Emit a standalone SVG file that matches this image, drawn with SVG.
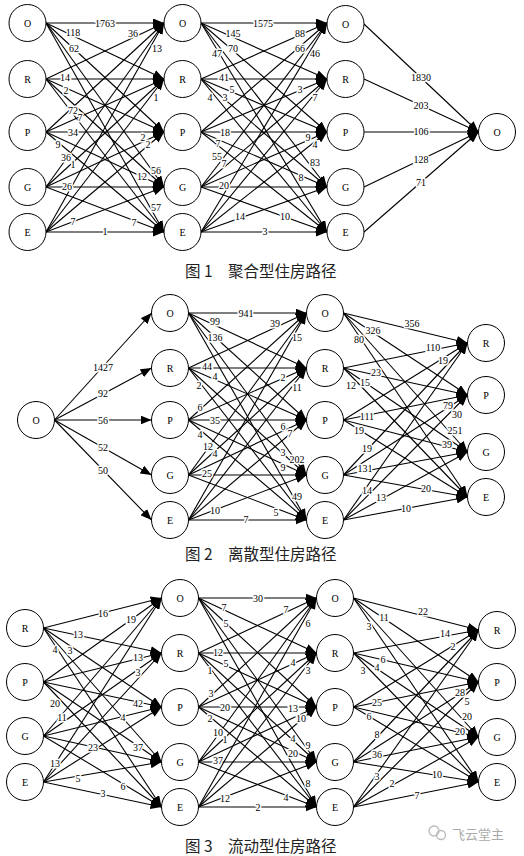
<svg xmlns="http://www.w3.org/2000/svg" width="524" height="856" viewBox="0 0 524 856">
<style>
.e line{stroke:#000;stroke-width:1.1;marker-end:url(#ah);fill:none}
.n circle{fill:#fff;stroke:#000;stroke-width:1}
.n text{font-family:"Liberation Serif",serif;font-size:10px;text-anchor:middle;dominant-baseline:central;fill:#000}
.lb text{font-family:"Liberation Serif",serif;font-size:10px;text-anchor:middle;dominant-baseline:central;fill:#000;paint-order:stroke;stroke:#fff;stroke-width:3px;stroke-linejoin:round}
.cap{font-family:"Noto Sans CJK SC",sans-serif;font-size:15.5px;fill:#222;dominant-baseline:central}
</style>
<defs>
<marker id="ah" markerUnits="userSpaceOnUse" markerWidth="11" markerHeight="9" refX="11" refY="4.5" orient="auto"><path d="M0,0 L11,4.5 L0,9 z" fill="#000"/></marker>
</defs>
<rect width="524" height="856" fill="#fff"/>
<g id="connectors" class="e">
<line x1="46" y1="23" x2="164" y2="23"/><line x1="46" y1="23" x2="164" y2="79"/><line x1="46" y1="23" x2="164" y2="132"/><line x1="46" y1="23" x2="164" y2="187"/><line x1="46" y1="23" x2="164" y2="232"/>
<line x1="46" y1="79" x2="164" y2="23"/><line x1="46" y1="79" x2="164" y2="79"/><line x1="46" y1="79" x2="164" y2="132"/><line x1="46" y1="79" x2="164" y2="187"/><line x1="46" y1="79" x2="164" y2="232"/>
<line x1="46" y1="132" x2="164" y2="23"/><line x1="46" y1="132" x2="164" y2="79"/><line x1="46" y1="132" x2="164" y2="132"/><line x1="46" y1="132" x2="164" y2="187"/><line x1="46" y1="132" x2="164" y2="232"/>
<line x1="46" y1="187" x2="164" y2="23"/><line x1="46" y1="187" x2="164" y2="79"/><line x1="46" y1="187" x2="164" y2="132"/><line x1="46" y1="187" x2="164" y2="187"/><line x1="46" y1="187" x2="164" y2="232"/>
<line x1="46" y1="232" x2="164" y2="23"/><line x1="46" y1="232" x2="164" y2="79"/><line x1="46" y1="232" x2="164" y2="132"/><line x1="46" y1="232" x2="164" y2="187"/><line x1="46" y1="232" x2="164" y2="232"/>
<line x1="201" y1="23" x2="327" y2="23"/><line x1="201" y1="23" x2="327" y2="79"/><line x1="201" y1="23" x2="327" y2="132"/><line x1="201" y1="23" x2="327" y2="187"/><line x1="201" y1="23" x2="327" y2="232"/>
<line x1="201" y1="79" x2="327" y2="23"/><line x1="201" y1="79" x2="327" y2="79"/><line x1="201" y1="79" x2="327" y2="132"/><line x1="201" y1="79" x2="327" y2="187"/><line x1="201" y1="79" x2="327" y2="232"/>
<line x1="201" y1="132" x2="327" y2="23"/><line x1="201" y1="132" x2="327" y2="79"/><line x1="201" y1="132" x2="327" y2="132"/><line x1="201" y1="132" x2="327" y2="187"/><line x1="201" y1="132" x2="327" y2="232"/>
<line x1="201" y1="187" x2="327" y2="23"/><line x1="201" y1="187" x2="327" y2="79"/><line x1="201" y1="187" x2="327" y2="132"/><line x1="201" y1="187" x2="327" y2="187"/><line x1="201" y1="187" x2="327" y2="232"/>
<line x1="201" y1="232" x2="327" y2="23"/><line x1="201" y1="232" x2="327" y2="79"/><line x1="201" y1="232" x2="327" y2="132"/><line x1="201" y1="232" x2="327" y2="187"/><line x1="201" y1="232" x2="327" y2="232"/>
<line x1="364" y1="24" x2="478.5" y2="132"/><line x1="364" y1="79" x2="478.5" y2="132"/><line x1="364" y1="132" x2="478.5" y2="132"/><line x1="364" y1="187" x2="478.5" y2="132"/><line x1="364" y1="232" x2="478.5" y2="132"/>
<line x1="54.5" y1="420" x2="151.5" y2="313"/><line x1="54.5" y1="420" x2="151.5" y2="368"/><line x1="54.5" y1="420" x2="151.5" y2="420"/><line x1="54.5" y1="420" x2="151.5" y2="475"/><line x1="54.5" y1="420" x2="151.5" y2="520"/>
<line x1="188.5" y1="313" x2="306.5" y2="313"/><line x1="188.5" y1="313" x2="306.5" y2="368"/><line x1="188.5" y1="313" x2="306.5" y2="420"/><line x1="188.5" y1="313" x2="306.5" y2="475"/><line x1="188.5" y1="313" x2="306.5" y2="520"/>
<line x1="188.5" y1="368" x2="306.5" y2="313"/><line x1="188.5" y1="368" x2="306.5" y2="368"/><line x1="188.5" y1="368" x2="306.5" y2="420"/><line x1="188.5" y1="368" x2="306.5" y2="475"/><line x1="188.5" y1="368" x2="306.5" y2="520"/>
<line x1="188.5" y1="420" x2="306.5" y2="313"/><line x1="188.5" y1="420" x2="306.5" y2="368"/><line x1="188.5" y1="420" x2="306.5" y2="420"/><line x1="188.5" y1="420" x2="306.5" y2="475"/><line x1="188.5" y1="420" x2="306.5" y2="520"/>
<line x1="188.5" y1="475" x2="306.5" y2="313"/><line x1="188.5" y1="475" x2="306.5" y2="368"/><line x1="188.5" y1="475" x2="306.5" y2="420"/><line x1="188.5" y1="475" x2="306.5" y2="475"/><line x1="188.5" y1="475" x2="306.5" y2="520"/>
<line x1="188.5" y1="520" x2="306.5" y2="313"/><line x1="188.5" y1="520" x2="306.5" y2="368"/><line x1="188.5" y1="520" x2="306.5" y2="420"/><line x1="188.5" y1="520" x2="306.5" y2="475"/><line x1="188.5" y1="520" x2="306.5" y2="520"/>
<line x1="343.5" y1="313" x2="467.5" y2="343"/><line x1="343.5" y1="313" x2="467.5" y2="395"/><line x1="343.5" y1="313" x2="467.5" y2="452"/><line x1="343.5" y1="313" x2="467.5" y2="497"/>
<line x1="343.5" y1="368" x2="467.5" y2="343"/><line x1="343.5" y1="368" x2="467.5" y2="395"/><line x1="343.5" y1="368" x2="467.5" y2="452"/><line x1="343.5" y1="368" x2="467.5" y2="497"/>
<line x1="343.5" y1="420" x2="467.5" y2="343"/><line x1="343.5" y1="420" x2="467.5" y2="395"/><line x1="343.5" y1="420" x2="467.5" y2="452"/><line x1="343.5" y1="420" x2="467.5" y2="497"/>
<line x1="343.5" y1="475" x2="467.5" y2="343"/><line x1="343.5" y1="475" x2="467.5" y2="395"/><line x1="343.5" y1="475" x2="467.5" y2="452"/><line x1="343.5" y1="475" x2="467.5" y2="497"/>
<line x1="343.5" y1="520" x2="467.5" y2="343"/><line x1="343.5" y1="520" x2="467.5" y2="395"/><line x1="343.5" y1="520" x2="467.5" y2="452"/><line x1="343.5" y1="520" x2="467.5" y2="497"/>
<line x1="43.5" y1="628" x2="161.5" y2="598"/><line x1="43.5" y1="628" x2="161.5" y2="653"/><line x1="43.5" y1="628" x2="161.5" y2="707"/><line x1="43.5" y1="628" x2="161.5" y2="762"/><line x1="43.5" y1="628" x2="161.5" y2="807"/>
<line x1="43.5" y1="682" x2="161.5" y2="598"/><line x1="43.5" y1="682" x2="161.5" y2="653"/><line x1="43.5" y1="682" x2="161.5" y2="707"/><line x1="43.5" y1="682" x2="161.5" y2="762"/><line x1="43.5" y1="682" x2="161.5" y2="807"/>
<line x1="43.5" y1="736" x2="161.5" y2="598"/><line x1="43.5" y1="736" x2="161.5" y2="653"/><line x1="43.5" y1="736" x2="161.5" y2="707"/><line x1="43.5" y1="736" x2="161.5" y2="762"/><line x1="43.5" y1="736" x2="161.5" y2="807"/>
<line x1="43.5" y1="782" x2="161.5" y2="598"/><line x1="43.5" y1="782" x2="161.5" y2="653"/><line x1="43.5" y1="782" x2="161.5" y2="707"/><line x1="43.5" y1="782" x2="161.5" y2="762"/><line x1="43.5" y1="782" x2="161.5" y2="807"/>
<line x1="198.5" y1="598" x2="316.5" y2="598"/><line x1="198.5" y1="598" x2="316.5" y2="653"/><line x1="198.5" y1="598" x2="316.5" y2="707"/><line x1="198.5" y1="598" x2="316.5" y2="762"/><line x1="198.5" y1="598" x2="316.5" y2="807"/>
<line x1="198.5" y1="653" x2="316.5" y2="598"/><line x1="198.5" y1="653" x2="316.5" y2="653"/><line x1="198.5" y1="653" x2="316.5" y2="707"/><line x1="198.5" y1="653" x2="316.5" y2="762"/><line x1="198.5" y1="653" x2="316.5" y2="807"/>
<line x1="198.5" y1="707" x2="316.5" y2="598"/><line x1="198.5" y1="707" x2="316.5" y2="653"/><line x1="198.5" y1="707" x2="316.5" y2="707"/><line x1="198.5" y1="707" x2="316.5" y2="762"/><line x1="198.5" y1="707" x2="316.5" y2="807"/>
<line x1="198.5" y1="762" x2="316.5" y2="598"/><line x1="198.5" y1="762" x2="316.5" y2="653"/><line x1="198.5" y1="762" x2="316.5" y2="707"/><line x1="198.5" y1="762" x2="316.5" y2="762"/><line x1="198.5" y1="762" x2="316.5" y2="807"/>
<line x1="198.5" y1="807" x2="316.5" y2="598"/><line x1="198.5" y1="807" x2="316.5" y2="653"/><line x1="198.5" y1="807" x2="316.5" y2="707"/><line x1="198.5" y1="807" x2="316.5" y2="762"/><line x1="198.5" y1="807" x2="316.5" y2="807"/>
<line x1="353.5" y1="598" x2="478.5" y2="630"/><line x1="353.5" y1="598" x2="478.5" y2="682"/><line x1="353.5" y1="598" x2="478.5" y2="737"/><line x1="353.5" y1="598" x2="478.5" y2="782"/>
<line x1="353.5" y1="653" x2="478.5" y2="630"/><line x1="353.5" y1="653" x2="478.5" y2="682"/><line x1="353.5" y1="653" x2="478.5" y2="737"/><line x1="353.5" y1="653" x2="478.5" y2="782"/>
<line x1="353.5" y1="707" x2="478.5" y2="630"/><line x1="353.5" y1="707" x2="478.5" y2="682"/><line x1="353.5" y1="707" x2="478.5" y2="737"/><line x1="353.5" y1="707" x2="478.5" y2="782"/>
<line x1="353.5" y1="762" x2="478.5" y2="630"/><line x1="353.5" y1="762" x2="478.5" y2="682"/><line x1="353.5" y1="762" x2="478.5" y2="737"/><line x1="353.5" y1="762" x2="478.5" y2="782"/>
<line x1="353.5" y1="807" x2="478.5" y2="630"/><line x1="353.5" y1="807" x2="478.5" y2="682"/><line x1="353.5" y1="807" x2="478.5" y2="737"/><line x1="353.5" y1="807" x2="478.5" y2="782"/>
</g>
<g id="edge-labels" class="lb">
<text x="105" y="23">1763</text><text x="73" y="32">118</text><text x="133" y="33">36</text><text x="74" y="48">62</text><text x="157" y="48">13</text>
<text x="65" y="77">14</text><text x="66" y="90">2</text><text x="156" y="97">1</text><text x="73" y="110">72</text><text x="80" y="117">7</text>
<text x="73" y="132">34</text><text x="143" y="137">2</text><text x="148" y="144">2</text><text x="58" y="144">9</text><text x="66" y="157">36</text>
<text x="73" y="164">1</text><text x="156" y="170">56</text><text x="142" y="176">12</text><text x="67" y="186">26</text><text x="156" y="207">57</text>
<text x="73" y="221">7</text><text x="134" y="222">7</text><text x="105" y="231">1</text>
<text x="263" y="23">1575</text><text x="233" y="33">145</text><text x="300" y="33">88</text><text x="233" y="48">70</text><text x="217" y="53">47</text>
<text x="300" y="48">66</text><text x="315" y="53">46</text><text x="224" y="77">41</text><text x="232" y="89">5</text><text x="300" y="89">3</text>
<text x="210" y="97">4</text><text x="225" y="97">3</text><text x="315" y="97">7</text><text x="225" y="132">18</text><text x="308" y="137">9</text>
<text x="218" y="143">7</text><text x="315" y="144">4</text><text x="217" y="156">55</text><text x="224" y="163">7</text><text x="315" y="162">83</text>
<text x="301" y="177">8</text><text x="224" y="185">20</text><text x="240" y="216">14</text><text x="285" y="216">10</text><text x="265" y="231">3</text>
<text x="421" y="77">1830</text><text x="421" y="105">203</text><text x="421" y="131">106</text><text x="421" y="159">128</text><text x="421" y="182">71</text>
<text x="103" y="367">1427</text><text x="103" y="393">92</text><text x="103" y="420">56</text><text x="103" y="447">52</text><text x="103" y="470">50</text>
<text x="246" y="313">941</text><text x="215" y="321">99</text><text x="275" y="323">39</text><text x="215" y="337">136</text><text x="297" y="337">15</text>
<text x="207" y="366">44</text><text x="215" y="376">4</text><text x="283" y="377">2</text><text x="199" y="385">2</text><text x="297" y="387">11</text>
<text x="200" y="407">6</text><text x="215" y="420">35</text><text x="283" y="426">6</text><text x="290" y="433">7</text><text x="200" y="434">4</text>
<text x="208" y="446">12</text><text x="283" y="452">3</text><text x="297" y="459">202</text><text x="215" y="453">4</text><text x="283" y="467">9</text>
<text x="207" y="473">25</text><text x="297" y="496">49</text><text x="215" y="510">10</text><text x="276" y="512">5</text><text x="246" y="519">7</text>
<text x="412" y="323">356</text><text x="373" y="330">326</text><text x="359" y="339">80</text><text x="433" y="347">110</text><text x="443" y="360">19</text>
<text x="376" y="372">23</text><text x="365" y="382">15</text><text x="351" y="385">12</text><text x="448" y="405">79</text><text x="457" y="414">30</text>
<text x="367" y="416">111</text><text x="455" y="430">251</text><text x="359" y="430">19</text><text x="447" y="444">39</text><text x="367" y="448">19</text>
<text x="365" y="468">131</text><text x="426" y="488">20</text><text x="367" y="490">14</text><text x="381" y="497">13</text><text x="406" y="508">10</text>
<text x="103" y="613">16</text><text x="131" y="619">19</text><text x="78" y="634">13</text><text x="55" y="649">4</text><text x="70" y="650">3</text>
<text x="138" y="657">13</text><text x="138" y="672">3</text><text x="55" y="703">20</text><text x="138" y="703">42</text><text x="62" y="717">11</text>
<text x="123" y="717">4</text><text x="93" y="747">23</text><text x="138" y="747">37</text><text x="55" y="763">13</text><text x="78" y="778">5</text>
<text x="123" y="786">6</text><text x="103" y="793">3</text>
<text x="258" y="598">30</text><text x="224" y="607">7</text><text x="286" y="609">7</text><text x="226" y="623">5</text><text x="308" y="623">6</text>
<text x="218" y="652">12</text><text x="226" y="663">5</text><text x="293" y="662">4</text><text x="210" y="670">1</text><text x="308" y="670">3</text>
<text x="211" y="693">3</text><text x="225" y="707">20</text><text x="293" y="708">13</text><text x="301" y="718">10</text><text x="210" y="718">2</text>
<text x="218" y="732">10</text><text x="225" y="739">1</text><text x="293" y="738">4</text><text x="308" y="745">9</text><text x="218" y="760">37</text>
<text x="293" y="753">20</text><text x="308" y="783">8</text><text x="225" y="798">12</text><text x="286" y="797">4</text><text x="258" y="807">2</text>
<text x="423" y="611">22</text><text x="384" y="617">11</text><text x="369" y="626">3</text><text x="445" y="633">14</text><text x="453" y="646">2</text>
<text x="383" y="659">6</text><text x="377" y="667">4</text><text x="363" y="670">3</text><text x="460" y="692">28</text><text x="467" y="701">5</text>
<text x="377" y="702">25</text><text x="369" y="716">6</text><text x="467" y="716">20</text><text x="460" y="731">20</text><text x="377" y="734">8</text>
<text x="377" y="754">36</text><text x="437" y="774">10</text><text x="377" y="776">3</text><text x="392" y="783">2</text><text x="417" y="795">7</text>
</g>
<g id="f1-c1-O" class="n"><circle cx="27.5" cy="23" r="18.5"/><text x="27.5" y="23">O</text></g>
<g id="f1-c1-R" class="n"><circle cx="27.5" cy="79" r="18.5"/><text x="27.5" y="79">R</text></g>
<g id="f1-c1-P" class="n"><circle cx="27.5" cy="132" r="18.5"/><text x="27.5" y="132">P</text></g>
<g id="f1-c1-G" class="n"><circle cx="27.5" cy="187" r="18.5"/><text x="27.5" y="187">G</text></g>
<g id="f1-c1-E" class="n"><circle cx="27.5" cy="232" r="18.5"/><text x="27.5" y="232">E</text></g>
<g id="f1-c2-O" class="n"><circle cx="182.5" cy="23" r="18.5"/><text x="182.5" y="23">O</text></g>
<g id="f1-c2-R" class="n"><circle cx="182.5" cy="79" r="18.5"/><text x="182.5" y="79">R</text></g>
<g id="f1-c2-P" class="n"><circle cx="182.5" cy="132" r="18.5"/><text x="182.5" y="132">P</text></g>
<g id="f1-c2-G" class="n"><circle cx="182.5" cy="187" r="18.5"/><text x="182.5" y="187">G</text></g>
<g id="f1-c2-E" class="n"><circle cx="182.5" cy="232" r="18.5"/><text x="182.5" y="232">E</text></g>
<g id="f1-c3-O" class="n"><circle cx="345.5" cy="24" r="18.5"/><text x="345.5" y="24">O</text></g>
<g id="f1-c3-R" class="n"><circle cx="345.5" cy="79" r="18.5"/><text x="345.5" y="79">R</text></g>
<g id="f1-c3-P" class="n"><circle cx="345.5" cy="132" r="18.5"/><text x="345.5" y="132">P</text></g>
<g id="f1-c3-G" class="n"><circle cx="345.5" cy="187" r="18.5"/><text x="345.5" y="187">G</text></g>
<g id="f1-c3-E" class="n"><circle cx="345.5" cy="232" r="18.5"/><text x="345.5" y="232">E</text></g>
<g id="f1-end-O" class="n"><circle cx="497" cy="132" r="18.5"/><text x="497" y="132">O</text></g>
<g id="f2-src-O" class="n"><circle cx="36" cy="420" r="18.5"/><text x="36" y="420">O</text></g>
<g id="f2-c2-O" class="n"><circle cx="170" cy="313" r="18.5"/><text x="170" y="313">O</text></g>
<g id="f2-c2-R" class="n"><circle cx="170" cy="368" r="18.5"/><text x="170" y="368">R</text></g>
<g id="f2-c2-P" class="n"><circle cx="170" cy="420" r="18.5"/><text x="170" y="420">P</text></g>
<g id="f2-c2-G" class="n"><circle cx="170" cy="475" r="18.5"/><text x="170" y="475">G</text></g>
<g id="f2-c2-E" class="n"><circle cx="170" cy="520" r="18.5"/><text x="170" y="520">E</text></g>
<g id="f2-c3-O" class="n"><circle cx="325" cy="313" r="18.5"/><text x="325" y="313">O</text></g>
<g id="f2-c3-R" class="n"><circle cx="325" cy="368" r="18.5"/><text x="325" y="368">R</text></g>
<g id="f2-c3-P" class="n"><circle cx="325" cy="420" r="18.5"/><text x="325" y="420">P</text></g>
<g id="f2-c3-G" class="n"><circle cx="325" cy="475" r="18.5"/><text x="325" y="475">G</text></g>
<g id="f2-c3-E" class="n"><circle cx="325" cy="520" r="18.5"/><text x="325" y="520">E</text></g>
<g id="f2-c4-R" class="n"><circle cx="486" cy="343" r="18.5"/><text x="486" y="343">R</text></g>
<g id="f2-c4-P" class="n"><circle cx="486" cy="395" r="18.5"/><text x="486" y="395">P</text></g>
<g id="f2-c4-G" class="n"><circle cx="486" cy="452" r="18.5"/><text x="486" y="452">G</text></g>
<g id="f2-c4-E" class="n"><circle cx="486" cy="497" r="18.5"/><text x="486" y="497">E</text></g>
<g id="f3-c1-R" class="n"><circle cx="25" cy="628" r="18.5"/><text x="25" y="628">R</text></g>
<g id="f3-c1-P" class="n"><circle cx="25" cy="682" r="18.5"/><text x="25" y="682">P</text></g>
<g id="f3-c1-G" class="n"><circle cx="25" cy="736" r="18.5"/><text x="25" y="736">G</text></g>
<g id="f3-c1-E" class="n"><circle cx="25" cy="782" r="18.5"/><text x="25" y="782">E</text></g>
<g id="f3-c2-O" class="n"><circle cx="180" cy="598" r="18.5"/><text x="180" y="598">O</text></g>
<g id="f3-c2-R" class="n"><circle cx="180" cy="653" r="18.5"/><text x="180" y="653">R</text></g>
<g id="f3-c2-P" class="n"><circle cx="180" cy="707" r="18.5"/><text x="180" y="707">P</text></g>
<g id="f3-c2-G" class="n"><circle cx="180" cy="762" r="18.5"/><text x="180" y="762">G</text></g>
<g id="f3-c2-E" class="n"><circle cx="180" cy="807" r="18.5"/><text x="180" y="807">E</text></g>
<g id="f3-c3-O" class="n"><circle cx="335" cy="598" r="18.5"/><text x="335" y="598">O</text></g>
<g id="f3-c3-R" class="n"><circle cx="335" cy="653" r="18.5"/><text x="335" y="653">R</text></g>
<g id="f3-c3-P" class="n"><circle cx="335" cy="707" r="18.5"/><text x="335" y="707">P</text></g>
<g id="f3-c3-G" class="n"><circle cx="335" cy="762" r="18.5"/><text x="335" y="762">G</text></g>
<g id="f3-c3-E" class="n"><circle cx="335" cy="807" r="18.5"/><text x="335" y="807">E</text></g>
<g id="f3-c4-R" class="n"><circle cx="497" cy="630" r="18.5"/><text x="497" y="630">R</text></g>
<g id="f3-c4-P" class="n"><circle cx="497" cy="682" r="18.5"/><text x="497" y="682">P</text></g>
<g id="f3-c4-G" class="n"><circle cx="497" cy="737" r="18.5"/><text x="497" y="737">G</text></g>
<g id="f3-c4-E" class="n"><circle cx="497" cy="782" r="18.5"/><text x="497" y="782">E</text></g>
<g id="captions">
<text class="cap" x="185" y="270">图 1</text><text class="cap" x="228" y="270">聚合型住房路径</text>
<text class="cap" x="185" y="553">图 2</text><text class="cap" x="228" y="553">离散型住房路径</text>
<text class="cap" x="185" y="845">图 3</text><text class="cap" x="228" y="845">流动型住房路径</text>
</g>
<g id="watermark">
<circle cx="434" cy="831" r="5" fill="none" stroke="#bbb" stroke-width="1.3"/>
<circle cx="441" cy="835" r="4.5" fill="none" stroke="#bbb" stroke-width="1.3"/>
<text x="452" y="833" style="font-family:'Noto Sans CJK SC',sans-serif;font-size:13px;fill:#aaa;dominant-baseline:central">飞云堂主</text>
</g>
</svg>
